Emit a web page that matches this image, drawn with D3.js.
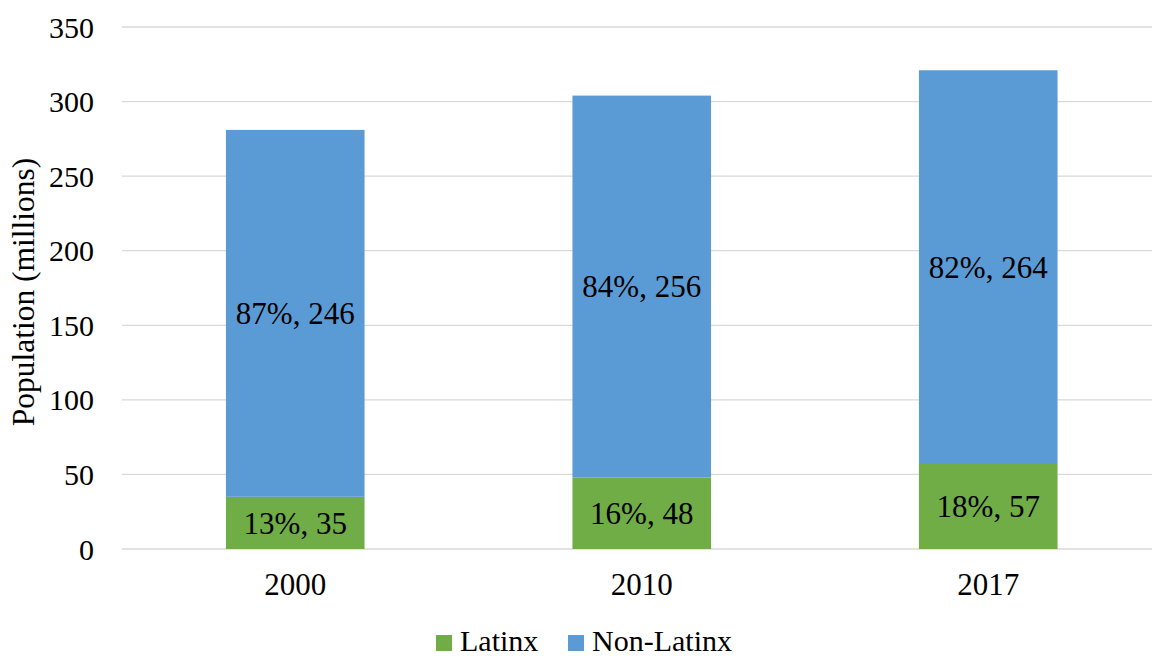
<!DOCTYPE html>
<html>
<head>
<meta charset="utf-8">
<script src="https://cdn.jsdelivr.net/npm/d3@7"></script>
<style>
  body { margin: 0; background: #fff; }
  svg { display: block; font-family: "Liberation Serif", "Times New Roman", serif; }
</style>
</head>
<body>
<svg id="chart"></svg>
<script>
// chart data
var years = ["2000", "2010", "2017"];
var latinx = [35, 48, 57];
var nonLatinx = [246, 256, 264];
var latinxPct = [13, 16, 18];
var nonLatinxPct = [87, 84, 82];
var seriesNames = ["Latinx", "Non-Latinx"];
var seriesColors = ["#70AD47", "#5B9BD5"];
var yTicks = [0, 50, 100, 150, 200, 250, 300, 350];

var width = 1152, height = 656;
var svg = d3.select("#chart").attr("width", width).attr("height", height);

// plot box (not "top": that name is taken by window.top)
var plotLeft = 122, plotRight = 1161.5, plotTop = 27, plotBottom = 549;

var x = d3.scaleBand().domain(years).range([plotLeft, plotRight]).paddingInner(0.6).paddingOuter(0.3);
var y = d3.scaleLinear().domain([0, 350]).range([plotBottom, plotTop]);

// grid
svg.append("g")
    .selectAll("line")
    .data(yTicks)
    .join("line")
    .attr("x1", plotLeft).attr("x2", plotRight)
    .attr("y1", d => y(d)).attr("y2", d => y(d))
    .attr("stroke", "#d9d9d9")
    .attr("stroke-width", 1.3);

// y tick labels
svg.append("g")
    .selectAll("text")
    .data(yTicks)
    .join("text")
    .attr("x", 94)
    .attr("y", d => y(d))
    .attr("dy", "0.35em")
    .attr("text-anchor", "end")
    .attr("font-size", 30)
    .attr("fill", "#000")
    .text(d => d);

// stacked rows
var rows = years.map((yr, i) => ({ year: yr, Latinx: latinx[i], "Non-Latinx": nonLatinx[i], i: i }));
var stack = d3.stack().keys(seriesNames)(rows);
var pcts = [latinxPct, nonLatinxPct];
var vals = [latinx, nonLatinx];

stack.forEach(function (layer, k) {
    var g = svg.append("g");
    g.selectAll("rect")
        .data(layer)
        .join("rect")
        .attr("x", d => x(d.data.year))
        .attr("width", x.bandwidth())
        .attr("y", d => y(d[1]))
        .attr("height", d => y(d[0]) - y(d[1]))
        .attr("fill", seriesColors[k]);

    g.selectAll("text")
        .data(layer)
        .join("text")
        .attr("x", d => x(d.data.year) + x.bandwidth() / 2)
        .attr("y", d => y((d[0] + d[1]) / 2))
        .attr("dy", "0.35em")
        .attr("text-anchor", "middle")
        .attr("font-size", 31)
        .attr("fill", "#000")
        .text(d => pcts[k][d.data.i] + "%, " + vals[k][d.data.i]);
});

// x labels
svg.append("g")
    .selectAll("text")
    .data(years)
    .join("text")
    .attr("x", d => x(d) + x.bandwidth() / 2)
    .attr("y", 595)
    .attr("text-anchor", "middle")
    .attr("font-size", 31)
    .attr("fill", "#000")
    .text(d => d);

// y title
svg.append("text")
    .attr("transform", "translate(34,292) rotate(-90)")
    .attr("text-anchor", "middle")
    .attr("font-size", 31.5)
    .attr("fill", "#000")
    .text("Population (millions)");

// legend
var legendX = [436, 568];
var legend = svg.append("g")
    .selectAll("g")
    .data(seriesNames)
    .join("g")
    .attr("transform", (d, i) => "translate(" + legendX[i] + ",0)");

legend.append("rect")
    .attr("x", 0).attr("y", 635)
    .attr("width", 16).attr("height", 16)
    .attr("fill", (d, i) => seriesColors[i]);

legend.append("text")
    .attr("x", 24).attr("y", 651)
    .attr("font-size", 30)
    .attr("fill", "#000")
    .text(d => d);
</script>
</body>
</html>
